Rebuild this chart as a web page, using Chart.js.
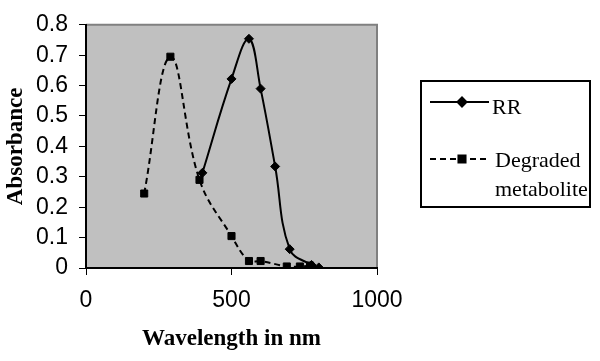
<!DOCTYPE html>
<html>
<head>
<meta charset="utf-8">
<script src="https://cdn.jsdelivr.net/npm/chart.js@4/dist/chart.umd.min.js"></script>
<style>
  html, body { margin: 0; padding: 0; background: #fff; }
  #wrap { width: 600px; height: 361px; }
</style>
</head>
<body>
<div id="wrap"><canvas id="c"></canvas></div>
<script>
// values
var rrWave = [400, 500, 560, 600, 650, 700, 775, 800];
var rrAbs = [0.313, 0.622, 0.754, 0.59, 0.334, 0.062, 0.01, 0.002];
var degWave = [200, 290, 390, 500, 560, 600, 690, 735, 770];
var degAbs = [0.245, 0.695, 0.29, 0.105, 0.023, 0.023, 0.005, 0.005, 0.008];

var seriesNames = ["RR", ["Degraded", "metabolite"]];
var xTitle = "Wavelength in nm";
var yTitle = "Absorbance";

function pairs(xs, ys) {
	return xs.map(function (x, i) {
		return { x: x, y: ys[i] };
	});
}

var sans = "'Liberation Sans', Arial, sans-serif";
var serif = "'Liberation Serif', 'Times New Roman', serif";

// grey plot area with a grey frame, like the old spreadsheet look
var plotArea = {
	id: "plotArea",
	beforeDraw: function (chart) {
		var a = chart.chartArea;
		var ctx = chart.ctx;
		ctx.save();
		ctx.fillStyle = "#c0c0c0";
		ctx.fillRect(a.left, a.top, a.right - a.left, a.bottom - a.top);
		ctx.strokeStyle = "#808080";
		ctx.lineWidth = 2;
		ctx.beginPath();
		ctx.moveTo(a.left, a.top);
		ctx.lineTo(a.right, a.top);
		ctx.lineTo(a.right, a.bottom);
		ctx.stroke();
		ctx.restore();
	},
};

// boxed legend on the right
var boxLegend = {
	id: "boxLegend",
	afterDraw: function (chart) {
		var ctx = chart.ctx;
		ctx.save();
		ctx.strokeStyle = "#000";
		ctx.lineWidth = 2;
		ctx.strokeRect(421, 81, 169, 126);

		var rows = [
			{ y: 102, textY: [114] },
			{ y: 159, textY: [167, 196] },
		];
		chart.data.datasets.forEach(function (ds, i) {
			var r = rows[i];
			ctx.strokeStyle = ds.borderColor;
			ctx.lineWidth = ds.borderWidth;
			ctx.setLineDash(ds.borderDash || []);
			ctx.beginPath();
			ctx.moveTo(430, r.y);
			ctx.lineTo(489, r.y);
			ctx.stroke();
			ctx.setLineDash([]);
			Chart.helpers.drawPoint(ctx, {
				pointStyle: ds.pointStyle,
				radius: ds.pointRadius,
				borderWidth: 1,
			}, 462, r.y);
			ctx.fill();

			ctx.fillStyle = "#000";
			ctx.font = "22px " + serif;
			ctx.textBaseline = "alphabetic";
			var lines = [].concat(seriesNames[i]);
			lines.forEach(function (t, j) {
				ctx.fillText(t, i === 0 ? 492 : 495, r.textY[j]);
			});
		});
		ctx.restore();
	},
};

var ctx = document.getElementById("c").getContext("2d");
var chart = new Chart(ctx, {
	type: "scatter",
	data: {
		datasets: [
			{
				label: "RR",
				data: pairs(rrWave, rrAbs),
				showLine: true,
				tension: 0.4,
				borderColor: "#000",
				backgroundColor: "#000",
				borderWidth: 2,
				pointStyle: "rectRot",
				pointRadius: 4.5,
				pointBorderWidth: 1,
			},
			{
				label: "Degraded metabolite",
				data: pairs(degWave, degAbs),
				showLine: true,
				tension: 0.4,
				borderColor: "#000",
				backgroundColor: "#000",
				borderWidth: 2,
				borderDash: [6, 4],
				pointStyle: "rect",
				pointRadius: 5,
				pointBorderWidth: 1,
			},
		],
	},
	options: {
		responsive: true,
		maintainAspectRatio: false,
		animation: false,
		layout: {
			padding: { top: 15, right: 223, left: 0, bottom: 0 },
		},
		plugins: {
			legend: { display: false },
			tooltip: { enabled: false },
		},
		scales: {
			x: {
				type: "linear",
				min: 0,
				max: 1000,
				afterFit: function (s) {
					s.height = 93;
				},
				ticks: {
					stepSize: 500,
					color: "#000",
					padding: 12,
					maxRotation: 0,
					font: { family: sans, size: 23 },
					callback: function (v) {
						return String(v);
					},
				},
				grid: {
					drawOnChartArea: false,
					drawTicks: true,
					tickLength: 7,
					color: "#000",
					lineWidth: 1,
				},
				border: { display: true, color: "#000", width: 2 },
				title: {
					display: true,
					text: xTitle,
					color: "#000",
					font: { family: serif, size: 23, weight: "bold" },
					padding: { top: 0, bottom: 8 },
				},
			},
			y: {
				min: 0,
				max: 0.8,
				afterFit: function (s) {
					s.width = 86;
				},
				ticks: {
					stepSize: 0.1,
					autoSkip: false,
					color: "#000",
					padding: 11,
					font: { family: sans, size: 23 },
				},
				grid: {
					drawOnChartArea: false,
					drawTicks: true,
					tickLength: 7,
					color: "#000",
					lineWidth: 1,
				},
				border: { display: true, color: "#000", width: 2 },
				title: {
					display: true,
					text: yTitle,
					color: "#000",
					font: { family: serif, size: 23, weight: "bold" },
					padding: { top: 2, bottom: 0 },
				},
			},
		},
	},
	plugins: [plotArea, boxLegend],
});
</script>
</body>
</html>
